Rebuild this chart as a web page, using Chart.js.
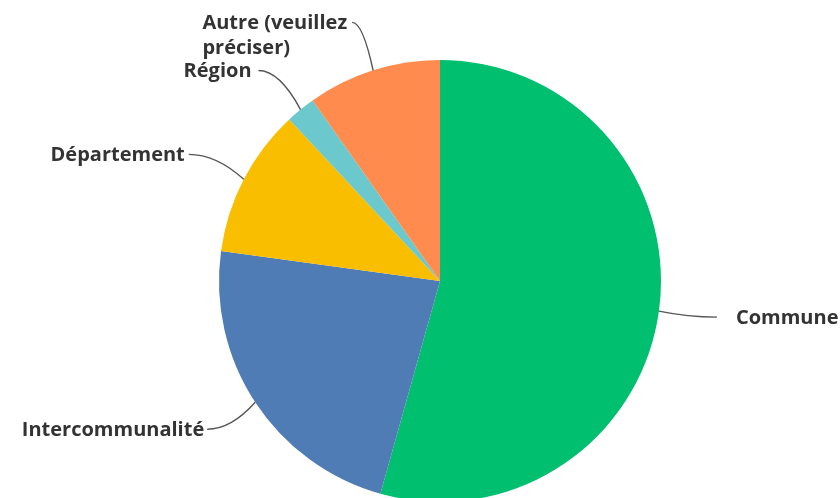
<!DOCTYPE html>
<html>
<head>
<meta charset="utf-8">
<script src="https://cdn.jsdelivr.net/npm/chart.js@4"></script>
<style>
  html, body { margin: 0; padding: 0; background: #fff; overflow: hidden; }
  #wrap { width: 840px; height: 498px; overflow: hidden; }
</style>
</head>
<body>
<div id="wrap"><canvas id="chart" width="840" height="512"></canvas></div>
<script>
const categories = ["Commune", "Intercommunalité", "Département", "Région", "Autre (veuillez préciser)"];
const labelLines = [["Commune"], ["Intercommunalité"], ["Département"], ["Région"], ["Autre (veuillez", "préciser)"]];
const responses = [50, 21, 10, 2, 9];
const sliceColors = ["#00BF6F", "#507CB6", "#F9BE00", "#6BC8CD", "#FF8B4F"];

// leader line end, relative to the slice edge at its mid angle
const leaderOffsets = [[58, 6], [-48, 27], [-55, -25], [-42, -39], [-21, -48]];
const textGaps = [19, 3, 4, 7, 5];

const leaderLabels = {
  id: "leaderLabels",
  afterDatasetsDraw(chart) {
    const ctx = chart.ctx;
    const arcs = chart.getDatasetMeta(0).data;
    ctx.save();
    ctx.font = "700 20px 'Open Sans'";
    ctx.fillStyle = "#333";
    ctx.strokeStyle = "#555";
    ctx.lineWidth = 1.4;
    arcs.forEach((arc, i) => {
      const mid = (arc.startAngle + arc.endAngle) / 2;
      const sx = arc.x + Math.cos(mid) * arc.outerRadius;
      const sy = arc.y + Math.sin(mid) * arc.outerRadius;
      const ex = sx + leaderOffsets[i][0];
      const ey = sy + leaderOffsets[i][1];
      const right = leaderOffsets[i][0] > 0;

      ctx.beginPath();
      ctx.moveTo(ex, ey);
      ctx.quadraticCurveTo(ex + (sx - ex) * 0.5, ey, sx, sy);
      ctx.stroke();

      const lines = labelLines[i];
      const w = Math.max(...lines.map((l) => ctx.measureText(l).width));
      const x0 = right ? ex + textGaps[i] : ex - textGaps[i] - w;
      ctx.textAlign = "left";
      ctx.textBaseline = "middle";
      lines.forEach((l, k) => ctx.fillText(l, x0, ey + 1 + k * 25));
    });
    ctx.restore();
  },
};

new Chart(document.getElementById("chart"), {
  type: "pie",
  data: {
    labels: categories,
    datasets: [
      {
        data: responses,
        backgroundColor: sliceColors,
        borderWidth: 0,
      },
    ],
  },
  options: {
    responsive: false,
    animation: false,
    layout: { padding: { top: 60, bottom: 10, left: 219, right: 179 } },
    plugins: {
      legend: { display: false },
      tooltip: { enabled: false },
    },
  },
  plugins: [leaderLabels],
});
</script>
</body>
</html>
